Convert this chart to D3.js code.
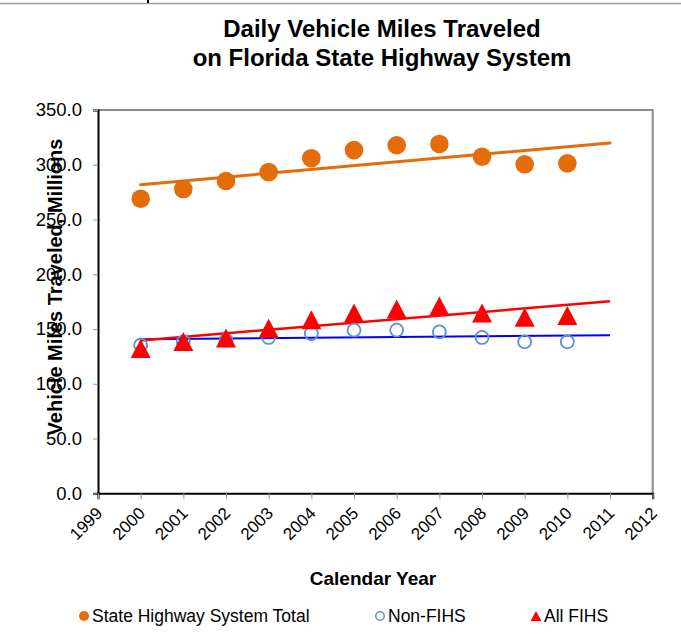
<!DOCTYPE html>
<html>
<head>
<meta charset="utf-8">
<script src="https://cdn.jsdelivr.net/npm/d3@7"></script>
<style>
  body { margin: 0; background: #fff; }
  svg { font-family: "Liberation Sans", Arial, sans-serif; }
</style>
</head>
<body>
<script>
// data (millions of daily VMT)
const years = [2000, 2001, 2002, 2003, 2004, 2005, 2006, 2007, 2008, 2009, 2010];
const shsTotal = [269.0, 277.8, 285.2, 293.3, 306.0, 313.4, 317.8, 319.0, 307.3, 300.4, 301.3];
const nonFihs = [135.2, 138.3, 139.8, 142.3, 145.9, 149.0, 149.0, 147.4, 142.3, 138.3, 138.3];
const allFihs = [132.3, 138.7, 141.9, 150.6, 158.5, 164.6, 168.4, 171.1, 164.7, 160.8, 162.3];
const xTicks = [1999, 2000, 2001, 2002, 2003, 2004, 2005, 2006, 2007, 2008, 2009, 2010, 2011, 2012];
const yTicks = [0, 50, 100, 150, 200, 250, 300, 350];

const width = 681, height = 634;
const plotL = 98, plotR = 652.7, plotT = 110, plotB = 493.3;

const svg = d3.select("body").append("svg")
  .attr("width", width)
  .attr("height", height);

// thin frame line at top of the picture
svg.append("line")
  .attr("x1", 0).attr("x2", width)
  .attr("y1", 3.5).attr("y2", 3.5)
  .attr("stroke", "#a0a0a0").attr("stroke-width", 1.5);
svg.append("line")
  .attr("x1", 148).attr("x2", 148)
  .attr("y1", 0).attr("y2", 3)
  .attr("stroke", "#000").attr("stroke-width", 2);

// Title
svg.append("text")
  .attr("x", 382).attr("y", 37)
  .attr("text-anchor", "middle")
  .style("font-size", "24px").style("font-weight", "bold")
  .text("Daily Vehicle Miles Traveled");
svg.append("text")
  .attr("x", 382).attr("y", 66)
  .attr("text-anchor", "middle")
  .style("font-size", "24px").style("font-weight", "bold")
  .text("on Florida State Highway System");

// Scales
const x = d3.scaleLinear().domain([1999, 2012]).range([plotL, plotR]);
const y = d3.scaleLinear().domain([0, 350]).range([plotB, plotT]);

// plot frame (gray top/right)
svg.append("path")
  .attr("d", `M${plotL},${plotT}H${plotR}V${plotB}`)
  .attr("fill", "none")
  .attr("stroke", "#8c8c8c").attr("stroke-width", 2);

// Axes
const yAxis = d3.axisLeft(y).tickValues(yTicks).tickFormat(d3.format(".1f")).tickSize(5).tickPadding(11);
const gy = svg.append("g").attr("transform", `translate(${plotL},0)`).call(yAxis);
gy.select(".domain").attr("stroke", "#000").attr("stroke-width", 2);
gy.selectAll(".tick line").attr("stroke", "#999");
gy.selectAll(".tick text")
  .style("font-size", "18.5px").style("font-family", "Liberation Sans, Arial, sans-serif").attr("fill", "#000");

const xAxis = d3.axisBottom(x).tickValues(xTicks).tickFormat(d3.format("d")).tickSize(6);
const gx = svg.append("g").attr("transform", `translate(0,${plotB})`).call(xAxis);
gx.select(".domain").attr("stroke", "#000").attr("stroke-width", 2);
gx.selectAll(".tick line").attr("stroke", "#999");
gx.selectAll(".tick text")
  .style("font-size", "17px").style("font-family", "Liberation Sans, Arial, sans-serif").attr("fill", "#000")
  .attr("text-anchor", "end")
  .attr("dy", null)
  .attr("transform", "translate(5,21) rotate(-45)")
  .attr("x", 0).attr("y", 0);

// Axis titles
svg.append("text")
  .attr("transform", "translate(62,287) rotate(-90)")
  .attr("text-anchor", "middle")
  .style("font-size", "20px").style("font-weight", "bold")
  .text("Vehicle Miles Traveled, Millions");

svg.append("text")
  .attr("x", 373).attr("y", 585)
  .attr("text-anchor", "middle")
  .style("font-size", "19px").style("font-weight", "bold")
  .text("Calendar Year");

// linear trend lines (least squares), extended one year forward
function trend(vals) {
  const mx = d3.mean(years), my = d3.mean(vals);
  const b = d3.sum(years, (t, i) => (t - mx) * (vals[i] - my)) / d3.sum(years, t => (t - mx) ** 2);
  const a = my - b * mx;
  return [[2000, a + b * 2000], [2011, a + b * 2011]];
}
const line = d3.line().x(d => x(d[0])).y(d => y(d[1]));

svg.append("path").datum(trend(shsTotal)).attr("d", line)
  .attr("fill", "none").attr("stroke", "#E46C0A").attr("stroke-width", 3).attr("stroke-linecap", "round");
svg.append("path").datum(trend(nonFihs)).attr("d", line)
  .attr("fill", "none").attr("stroke", "#0000FF").attr("stroke-width", 2);
svg.append("path").datum(trend(allFihs)).attr("d", line)
  .attr("fill", "none").attr("stroke", "#FF0000").attr("stroke-width", 2.5);

// markers
svg.selectAll(".shs").data(shsTotal).enter().append("circle")
  .attr("class", "shs")
  .attr("cx", (d, i) => x(years[i])).attr("cy", d => y(d))
  .attr("r", 9.3).attr("fill", "#E46C0A");

svg.selectAll(".non").data(nonFihs).enter().append("circle")
  .attr("class", "non")
  .attr("cx", (d, i) => x(years[i])).attr("cy", d => y(d))
  .attr("r", 6.5).attr("fill", "none").attr("stroke", "#5A8FDC").attr("stroke-width", 1.8);

// triangle marker, centred on its bounding box
const triPath = (w, h) => `M0,${-h / 2}L${w / 2},${h / 2}L${-w / 2},${h / 2}Z`;
svg.selectAll(".fihs").data(allFihs).enter().append("path")
  .attr("class", "fihs")
  .attr("transform", (d, i) => `translate(${x(years[i])},${y(d)})`)
  .attr("d", triPath(20, 19)).attr("fill", "#FF0000");

// Legend
const legend = [
  { label: "State Highway System Total", kind: "shs", x: 84 },
  { label: "Non-FIHS", kind: "non", x: 380 },
  { label: "All FIHS", kind: "fihs", x: 536 }
];
const lg = svg.selectAll(".lg").data(legend).enter().append("g")
  .attr("class", "lg")
  .attr("transform", d => `translate(${d.x},616)`);
lg.each(function (d) {
  const g = d3.select(this);
  if (d.kind === "shs") g.append("circle").attr("r", 5).attr("fill", "#E46C0A");
  if (d.kind === "non") g.append("circle").attr("r", 4.2).attr("fill", "none").attr("stroke", "#5A8FDC").attr("stroke-width", 1.5);
  if (d.kind === "fihs") g.append("path").attr("d", triPath(11, 10)).attr("fill", "#FF0000");
  g.append("text").attr("x", 8).attr("y", 6)
    .style("font-size", "17.5px")
    .text(d.label);
});
</script>
</body>
</html>
